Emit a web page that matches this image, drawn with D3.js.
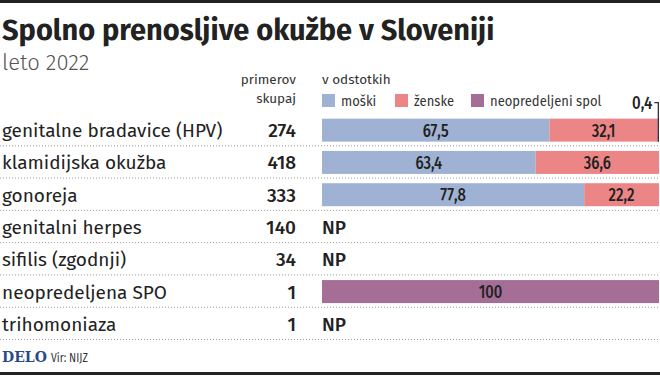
<!DOCTYPE html>
<html>
<head>
<meta charset="utf-8">
<script src="https://cdn.jsdelivr.net/npm/d3@7"></script>
<style>
  body { margin: 0; background: #fff; }
  svg { display: block; }
</style>
</head>
<body>
<svg id="chart"></svg>
<script>
// data
const bolezni = ["genitalne bradavice (HPV)", "klamidijska okužba", "gonoreja", "genitalni herpes", "sifilis (zgodnji)", "neopredeljena SPO", "trihomoniaza"];
const primerov = [274, 418, 333, 140, 34, 1, 1];
const moski = [67.5, 63.4, 77.8, null, null, 0, null];
const zenske = [32.1, 36.6, 22.2, null, null, 0, null];
const neopredeljeni = [0.4, 0, 0, null, null, 100, null];
const skupine = ["moški", "ženske", "neopredeljeni spol"];
const barve = ["#a0b2d4", "#ec8585", "#a56e97"];

const W = 660, H = 377;
const font = "'Fira Sans', 'Open Sans', sans-serif";

const svg = d3.select("#chart")
    .attr("width", W)
    .attr("height", H)
    .attr("font-family", font);

// narrow text (the original uses a condensed face)
function narrow(sel, x, y, sx) {
    return sel.append("text")
        .attr("transform", "translate(" + x + "," + y + ") scale(" + sx + ",1)");
}
const fmt = v => d3.format(".1f")(v).replace(".", ",").replace(",0", "");

// dark rules top and bottom
svg.append("rect").attr("x", 0).attr("y", 0).attr("width", W).attr("height", 3).attr("fill", "#222");
svg.append("rect").attr("x", 0).attr("y", 372).attr("width", W).attr("height", 3).attr("fill", "#222");

svg.append("text")
    .attr("x", 2).attr("y", 40)
    .attr("font-size", 29).attr("font-weight", 700)
    .attr("fill", "#222")
    .text("Spolno prenosljive okužbe v Sloveniji");

svg.append("text")
    .attr("x", 2).attr("y", 70)
    .attr("font-size", 22).attr("font-weight", 300)
    .attr("fill", "#555")
    .text("leto 2022");

// header for counts
svg.append("text").attr("x", 296).attr("y", 84).attr("text-anchor", "end")
    .attr("font-size", 13.5).attr("fill", "#333").text("primerov");
svg.append("text").attr("x", 296).attr("y", 103).attr("text-anchor", "end")
    .attr("font-size", 13.5).attr("fill", "#333").text("skupaj");
svg.append("text").attr("x", 322).attr("y", 84)
    .attr("font-size", 13.5).attr("fill", "#333").text("v odstotkih");

// legend
const legX = [322, 395, 471];
const leg = svg.append("g").selectAll("g").data(skupine).join("g")
    .attr("transform", (d, i) => "translate(" + legX[i] + ",94)");
leg.append("rect").attr("width", 13).attr("height", 13).attr("fill", (d, i) => barve[i]);
leg.each(function(d) {
    narrow(d3.select(this), 19, 11.5, 0.87)
        .attr("font-size", 15).attr("fill", "#333").text(d);
});

// scales
const x = d3.scaleLinear().domain([0, 100]).range([322, 659]);
const y = d3.scaleBand().domain(bolezni).range([114, 340]).paddingInner(0).paddingOuter(0);
const bh = 23;

// dotted separators
svg.append("g").selectAll("line").data(bolezni).join("line")
    .attr("x1", 0).attr("x2", W)
    .attr("y1", d => y(d) + y.bandwidth() - 0.5)
    .attr("y2", d => y(d) + y.bandwidth() - 0.5)
    .attr("stroke", "#999").attr("stroke-width", 1)
    .attr("stroke-dasharray", "1,2");

const rows = svg.append("g").selectAll("g").data(bolezni).join("g")
    .attr("transform", d => "translate(0," + (y(d) + y.bandwidth() / 2) + ")");

rows.append("text").attr("x", 2).attr("y", 7)
    .attr("font-size", 19).attr("fill", "#222")
    .text(d => d);

rows.append("text").attr("x", 296).attr("y", 7).attr("text-anchor", "end")
    .attr("font-size", 19).attr("font-weight", 500).attr("fill", "#222")
    .text((d, i) => primerov[i]);

// stacked bars
const vrednosti = bolezni.map((d, i) => ({ bolezen: d, m: moski[i], z: zenske[i], n: neopredeljeni[i] }));
const stack = d3.stack().keys(["m", "z", "n"]);
const serije = stack(vrednosti.filter(v => v.m !== null));

serije.forEach((s, k) => {
    const g = svg.append("g");
    g.selectAll("rect").data(s).join("rect")
        .attr("x", d => x(d[0]))
        .attr("width", d => x(d[1]) - x(d[0]))
        .attr("y", d => y(d.data.bolezen) + (y.bandwidth() - bh) / 2)
        .attr("height", bh)
        .attr("fill", barve[k]);

    s.filter(d => d[1] - d[0] >= 5).forEach(d => {
        narrow(g, (x(d[0]) + x(d[1])) / 2, y(d.data.bolezen) + y.bandwidth() / 2 + 6.5, 0.8)
            .attr("text-anchor", "middle")
            .attr("font-size", 18.5).attr("font-weight", 500).attr("fill", "#222")
            .text(fmt(d[1] - d[0]));
    });
});

// small slice gets a leader label
serije[2].filter(d => d[1] - d[0] > 0 && d[1] - d[0] < 5).forEach(d => {
    const xm = (x(d[0]) + x(d[1])) / 2;
    const top = y(d.data.bolezen) + (y.bandwidth() - bh) / 2;
    svg.append("path")
        .attr("d", "M" + (xm - 4) + "," + (top - 16) + "H" + xm + "V" + (top + bh))
        .attr("fill", "none").attr("stroke", "#333").attr("stroke-width", 1.3);
    narrow(svg, xm - 6, top - 10, 0.82)
        .attr("text-anchor", "end")
        .attr("font-size", 18.5).attr("font-weight", 500).attr("fill", "#222")
        .text(d3.format(".1f")(d[1] - d[0]).replace(".", ","));
});

// NP rows
rows.filter((d, i) => moski[i] === null).append("text")
    .attr("x", 322).attr("y", 7)
    .attr("font-size", 19).attr("font-weight", 500).attr("fill", "#222")
    .text("NP");

// footer
svg.append("text").attr("x", 2).attr("y", 362)
    .attr("font-family", "'DejaVu Serif', serif").attr("font-weight", 700)
    .attr("font-size", 14).attr("fill", "#2b4a86")
    .text("DELO");
narrow(svg, 51, 362, 0.8)
    .attr("font-size", 13).attr("fill", "#333")
    .text("Vir: NIJZ");
</script>
</body>
</html>
